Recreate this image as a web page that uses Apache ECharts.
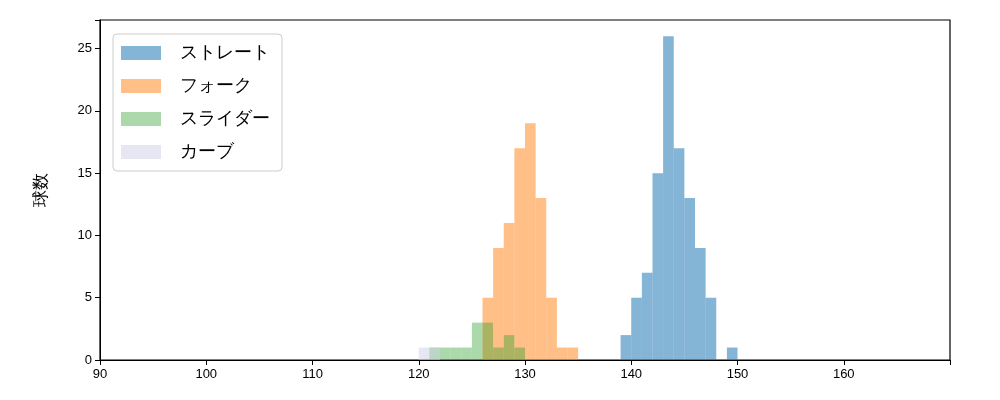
<!DOCTYPE html>
<html><head><meta charset="utf-8">
<script src="https://cdn.jsdelivr.net/npm/echarts@6/dist/echarts.min.js"></script>
<style>body{margin:0}#c{width:1000px;height:400px}</style></head>
<body><div id="c"></div>
<script>
const seriesNames = ['ストレート','フォーク','スライダー','カーブ'];
const binStarts = {
  'ストレート': [139,140,141,142,143,144,145,146,147,148,149],
  'フォーク':   [126,127,128,129,130,131,132,133,134],
  'スライダー': [121,122,123,124,125,126,127,128,129],
  'カーブ':     [120,121]
};
const counts = {
  'ストレート': [2,5,7,15,26,17,13,9,5,0,1],
  'フォーク':   [5,9,11,17,19,13,5,1,1],
  'スライダー': [1,1,1,1,3,3,1,2,1],
  'カーブ':     [1,1]
};
const colors = ['rgba(31,119,180,0.55)','rgba(255,127,14,0.5)','rgba(44,160,44,0.4)','rgba(208,208,232,0.5)'];
const binWidth = 1;
const series = seriesNames.map((n,i)=>({
  type:'custom', name:n, itemStyle:{color:colors[i]},
  data: binStarts[n].map((x,j)=>[x, counts[n][j]]),
  encode:{x:0,y:1},
  renderItem:(p,api)=>{
    const x0=api.value(0), c=api.value(1);
    const a=api.coord([x0,0]), b=api.coord([x0+binWidth,c]);
    return {type:'rect',shape:{x:a[0],y:b[1],width:b[0]-a[0],height:a[1]-b[1]},style:{fill:colors[i]}};
  }
}));
const chart = echarts.init(document.getElementById('c'));
chart.setOption({
  animation:false,
  grid:{left:100,right:50,top:20,bottom:40,show:true,borderColor:'#000',borderWidth:1.2},
  xAxis:{type:'value',min:90,max:170,interval:10,
    axisLine:{lineStyle:{color:'#000'}},axisTick:{show:true,length:5,lineStyle:{color:'#000'}},
    splitLine:{show:false},axisLabel:{color:'#000',fontSize:13,
      formatter:v=>v>=170?'':v}},
  yAxis:{type:'value',min:0,max:27.3,interval:5,name:'球数',nameLocation:'middle',nameGap:50,
    nameTextStyle:{color:'#000',fontSize:17},
    axisLine:{show:true,lineStyle:{color:'#000'}},axisTick:{show:true,length:5,lineStyle:{color:'#000'}},
    splitLine:{show:false},axisLabel:{color:'#000',fontSize:13,formatter:v=>v>26?'':v}},
  legend:{orient:'vertical',left:113,top:34,itemWidth:40,itemHeight:14,itemGap:15,
    padding:[10,12,10,8],backgroundColor:'#fff',borderColor:'#ccc',borderWidth:1,borderRadius:4,
    textStyle:{fontSize:18,color:'#000',padding:[0,0,0,14]},icon:'rect',
    data:seriesNames},
  series
});
</script></body></html>
